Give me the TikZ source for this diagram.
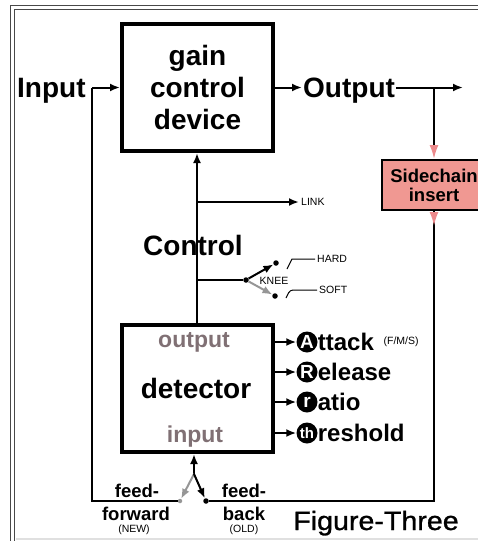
\documentclass[tikz,border=0pt]{standalone}
\usepackage{fontspec}
\setmainfont{Liberation Sans}
\newfontfamily\figfont[FakeStretch=1.08,FakeBold=1]{Liberation Sans}
\usetikzlibrary{arrows.meta,positioning}
\definecolor{sidepink}{RGB}{240,152,146}
\definecolor{tippink}{RGB}{236,138,140}
\definecolor{portgrey}{RGB}{128,112,116}
\definecolor{armgrey}{RGB}{150,150,150}
\definecolor{framegrey}{RGB}{72,72,72}
\newcommand{\bigtext}{\fontsize{28}{32}\selectfont\bfseries}
\newcommand{\midtext}{\fontsize{24}{28}\selectfont\bfseries}
\newcommand{\porttext}{\fontsize{23}{25}\selectfont\bfseries}
\newcommand{\feedtext}{\fontsize{18.5}{20}\selectfont\bfseries}
\newcommand{\tinytext}{\fontsize{10.5}{12}\selectfont}
\begin{document}
\begin{tikzpicture}[x=1pt,y=-1pt,
    wire/.style={line width=2pt},
    tip/.style={-{Latex[length=10pt,width=8pt]}},
    pinktip/.style={-{Latex[length=14pt,width=9pt,color=tippink]}},
    block/.style={draw,line width=4pt,minimum width=151pt,minimum height=127pt,inner sep=0pt},
    dot/.style={circle,fill,inner sep=0pt,minimum size=5.5pt},
    knob/.style={circle,fill=black,text=white,inner sep=0pt,minimum size=21pt,font=\fontsize{19}{19}\selectfont\bfseries},
    word/.style={inner sep=0pt,font=\midtext}]
    \useasboundingbox (0,0) rectangle (478,541);
    % frame
    \draw[framegrey,line width=1.5pt] (10.5,541) -- (10.5,5.5) -- (478,5.5);
    \draw[framegrey,line width=1.5pt] (14.5,541) -- (14.5,9.5) -- (478,9.5);
    \draw[black!12,line width=1.5pt] (15.5,539) -- (478,539);
    % blocks
    \node[block,align=center,font=\bigtext] (gain) at (197.5,87.5) {gain\\control\\device};
    \node[block] (det) at (197,388.5) {};
    \node[draw,line width=2pt,fill=sidepink,minimum width=104pt,minimum height=50pt,inner sep=0pt,
        align=center,font=\fontsize{18.5}{19}\selectfont\bfseries] (side) at (434,185) {Sidechain\\insert};
    \node[font=\porttext,text=portgrey,anchor=base] (detout) at (194,347) {output};
    \node[font=\bigtext,anchor=base] (detname) at (196,398) {detector};
    \node[font=\porttext,text=portgrey,anchor=base] (detin) at (195,442) {input};
    % main path
    \node[font=\bigtext,inner sep=0pt,anchor=base west] (in) at (17,97) {Input};
    \node[font=\bigtext,inner sep=1pt,anchor=base west] (out) at (302,97) {Output};
    \coordinate (injoin) at (92,87.5);
    \coordinate (sbranch) at (434,87.5);
    \coordinate (outend) at (463,87.5);
    \draw[wire,tip] (injoin) -- (injoin -| gain.west);
    \draw[wire,tip] (gain.east) -- (gain.east -| out.west);
    \draw[wire,tip] (out.east |- gain.east) -- (outend);
    \draw[wire,pinktip] (sbranch) -- (side.north);
    % control
    \draw[wire,tip] (det.north) -- (det.north |- gain.south);
    \node[font=\bigtext,anchor=base] (ctrl) at (193,255) {Control};
    \coordinate (linkjoin) at (197,202);
    \node[font=\tinytext,anchor=west,inner sep=2pt] (link) at (299,202) {LINK};
    \draw[wire,tip] (linkjoin) -- (link.west);
    % knee switch
    \coordinate (kneejoin) at (197,280);
    \node[dot] (kp) at (246,280) {};
    \node[dot] (khard) at (276,263) {};
    \node[dot] (ksoft) at (275,296) {};
    \draw[wire] (kneejoin) -- (kp);
    \draw[wire,tip] (kp) -- (khard);
    \draw[wire,armgrey,tip] (kp) -- (ksoft);
    \node[font=\tinytext,inner sep=0pt] (knee) at (274,281) {KNEE};
    \node[font=\tinytext,anchor=west,inner sep=2pt] (hard) at (315,259) {HARD};
    \node[font=\tinytext,anchor=west,inner sep=2pt] (soft) at (317,290) {SOFT};
    \draw[line width=1pt] (287,269) -- (292,259) -- (hard.west);
    \draw[line width=1pt,rounded corners=3pt] (286,298) -- (290,290) -- (soft.west);
    % detector settings
    \foreach \y/\n/\l/\w in {342/atk/A/ttack, 372/rel/R/elease, 402/rat/r/atio, 433/thr/{\fontsize{15}{15}\selectfont th}/reshold} {
        \node[knob] (k\n) at (307,\y) {\l};
        \node[word,right=0pt of k\n] (w\n) {\w};
        \draw[wire,tip] (det.east |- k\n) -- (k\n.west);
    }
    \node[font=\tinytext,right=6pt of watk] (fms) {(F/M/S)};
    % feed switch
    \coordinate (fp) at (194,474);
    \node[dot,armgrey,minimum size=4.5pt] (ffd) at (180,501) {};
    \node[dot] (fbd) at (206,501) {};
    \draw[wire,tip] (fp) -- (fp |- det.south);
    \draw[wire,armgrey,tip] (fp) -- (ffd);
    \draw[wire,tip] (fp) -- (fbd);
    \draw[wire] (injoin) |- (ffd);
    \draw[wire] (side.south) |- (fbd);
    \draw[wire,pinktip] (side.south) -- ++(0,15);
    \node[font=\feedtext,anchor=base,inner sep=0pt] (ffa) at (137,497) {feed-};
    \node[font=\feedtext,anchor=base,inner sep=0pt] (ffb) at (136,520) {forward};
    \node[font=\tinytext,inner sep=0pt] (ffc) at (134,530) {(NEW)};
    \node[font=\feedtext,anchor=base,inner sep=0pt] (fba) at (244,497) {feed-};
    \node[font=\feedtext,anchor=base,inner sep=0pt] (fbb) at (244,520) {back};
    \node[font=\tinytext,inner sep=0pt] (fbc) at (244,530) {(OLD)};
    \node[font=\figfont\fontsize{26.5}{28}\selectfont,anchor=base] (fig) at (376,530) {Figure-Three};
\end{tikzpicture}
\end{document}
